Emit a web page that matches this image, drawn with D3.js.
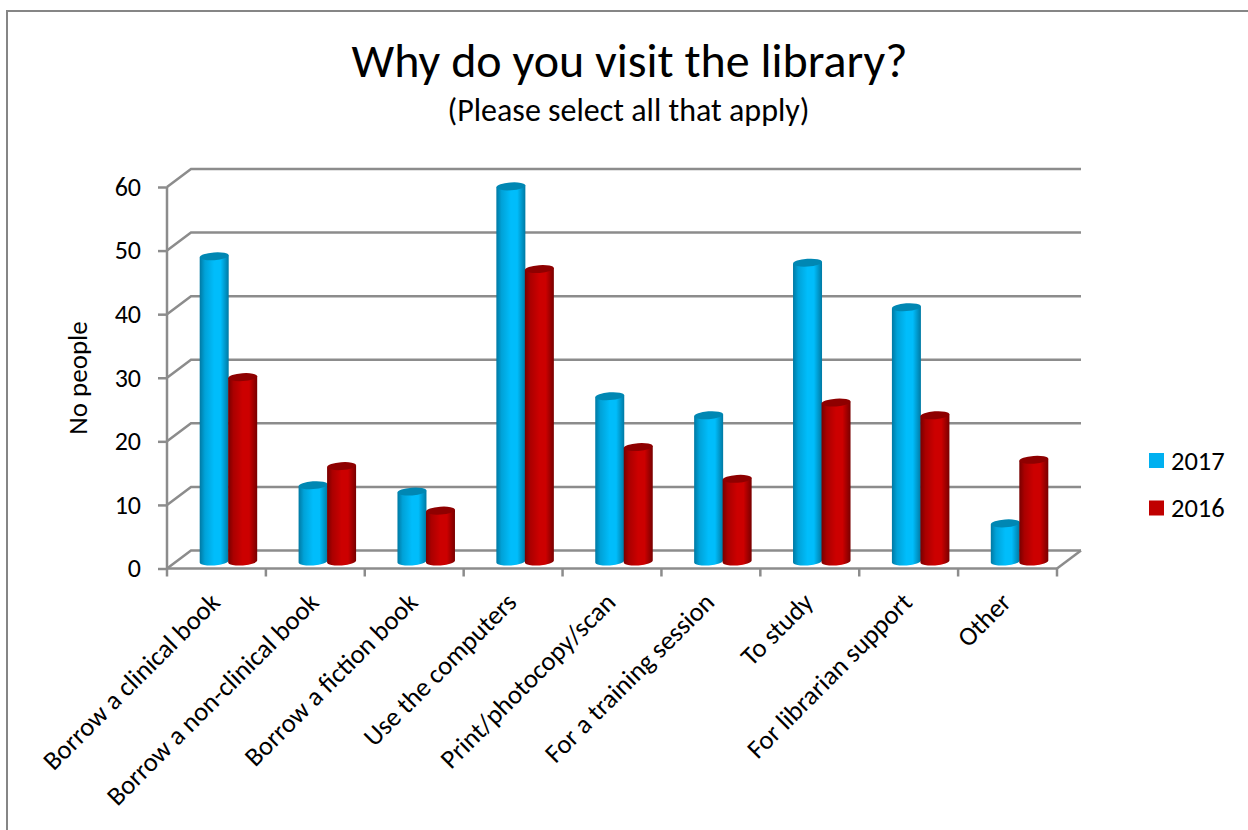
<!DOCTYPE html>
<html><head><meta charset="utf-8">
<script src="https://cdn.jsdelivr.net/npm/d3@7"></script>
<style>html,body{margin:0;padding:0;background:#fff}svg{display:block}text{font-family:Carlito,Lato,sans-serif;fill:#000}</style>
</head><body><div id="c"></div>
<script>
const categories=["Borrow a clinical book","Borrow a non-clinical book","Borrow a fiction book","Use the computers","Print/photocopy/scan","For a training session","To study","For librarian support","Other"];
const values2017=[48,12,11,59,26,23,47,40,6];
const values2016=[29,15,8,46,18,13,25,23,16];
const seriesNames=["2017","2016"];
const yTicks=[0,10,20,30,40,50,60];
const W=1248,H=830,grey="#8c8c8c";
const dx=24,dy=-18;
const svg=d3.select("#c").append("svg").attr("width",W).attr("height",H);
const defs=svg.append("defs");
function grad(id,edge,mid){const g=defs.append("linearGradient").attr("id",id);
 [[0,edge],[.18,d3.interpolateRgb(edge,mid)(.6)],[.5,mid],[.72,mid],[1,edge]].forEach(s=>g.append("stop").attr("offset",s[0]).attr("stop-color",s[1]));}
grad("g17","#0079a3","#00bdfb");grad("g16","#780000","#cc0000");
const sty=[{fill:"url(#g17)",top:"#0087b3",leg:"#00b0f0"},{fill:"url(#g16)",top:"#8e0000",leg:"#c00000"}];

svg.append("path").attr("d",`M7,${H}V11H${W}`).attr("fill","none").attr("stroke","#868686").attr("stroke-width",2);

const x=d3.scaleBand().domain(categories).range([167,1057]).padding(0);
const y=d3.scaleLinear().domain([0,60]).range([568.5,187]);

const grid=svg.append("g").attr("stroke",grey).attr("stroke-width",2.5).attr("fill","none");
yTicks.forEach(t=>grid.append("path").attr("d",d3.line()([[x.range()[0],y(t)],[x.range()[0]+dx,y(t)+dy],[x.range()[1]+dx,y(t)+dy]])));
grid.append("path").attr("d",d3.line()([[x.range()[1],y(0)],[x.range()[1]+dx,y(0)+dy]]));

const gy=svg.append("g").attr("transform","translate(167,0)").call(d3.axisLeft(y).tickValues(yTicks).tickSize(9).tickPadding(17).tickSizeOuter(0));
gy.selectAll("path,line").attr("stroke",grey).attr("stroke-width",2.5);
gy.selectAll("text").attr("font-size",26).style("font-family","Carlito,Lato,sans-serif");
gy.select(".domain").attr("d",`M0,${y(60)}V${y(0)}`);

const boundaries=[...categories.map(c=>x(c)),x.range()[1]];
svg.append("g").attr("stroke",grey).attr("stroke-width",2.5).selectAll("line").data(boundaries).join("line")
 .attr("x1",d=>d).attr("x2",d=>d).attr("y1",y(0)).attr("y2",y(0)+8);
svg.append("line").attr("x1",x.range()[0]).attr("x2",x.range()[1]).attr("y1",y(0)).attr("y2",y(0)).attr("stroke",grey).attr("stroke-width",2.5);

const bw=28.5,rx=14.5,ry=3.9,tilt=-4,ox=dx/2,oy=-7;
[values2017,values2016].forEach((vals,si)=>{
 const g=svg.append("g");
 vals.forEach((v,i)=>{
  const cx=x(categories[i])+x.bandwidth()/2+ox+(si===0?-bw/2:bw/2);
  const b=y(0)+oy, t=y(v)+oy;
  g.append("path").attr("fill",sty[si].fill)
   .attr("d",`M${cx-rx},${t+1}V${b+1}A${rx},${ry} ${tilt} 0 0 ${cx+rx},${b-1}V${t-1}Z`);
  g.append("ellipse").attr("cx",cx).attr("cy",t).attr("rx",rx).attr("ry",ry).attr("fill",sty[si].top)
   .attr("transform",`rotate(${tilt} ${cx} ${t})`);
 });
});

svg.append("g").selectAll("text").data(categories).join("text")
 .attr("text-anchor","end").attr("font-size",26.5)
 .attr("transform",d=>`translate(${x(d)+x.bandwidth()/2+5},604) rotate(-45)`)
 .text(d=>d);

svg.append("text").attr("x",629.5).attr("y",77).attr("text-anchor","middle").attr("font-size",48).text("Why do you visit the library?");
svg.append("text").attr("x",628.5).attr("y",120.5).attr("text-anchor","middle").attr("font-size",32).text("(Please select all that apply)");
svg.append("text").attr("transform","translate(87,378) rotate(-90)").attr("text-anchor","middle").attr("font-size",27).text("No people");

seriesNames.forEach((n,i)=>{
 const yy=460.5+47.5*i;
 svg.append("rect").attr("x",1149).attr("y",yy-7.5).attr("width",15).attr("height",15).attr("fill",sty[i].leg);
 svg.append("text").attr("x",1171).attr("y",yy+9).attr("font-size",26.5).text(n);
});
</script></body></html>
